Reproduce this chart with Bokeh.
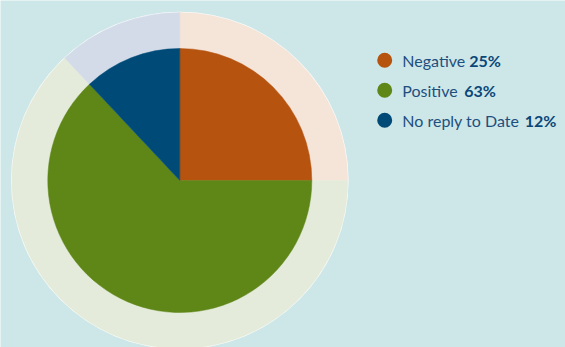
import math
from bokeh.plotting import figure
from bokeh.models import Range1d, ColumnDataSource
from bokeh.core.properties import value
from bokeh.embed import file_html
from bokeh.resources import INLINE

# ---- data ----
categories = ["Negative", "Positive", "No reply to Date"]
shares = [25, 63, 12]
labels = ["25%", "63%", "12%"]
colors = ["#b5530f", "#5e8718", "#004a78"]
light_colors = ["#f5e4d8", "#e4ebda", "#d3dbe8"]

W, H = 565, 347
BG = "#cde7e8"

p = figure(width=W, height=H, x_range=Range1d(0, W), y_range=Range1d(0, H),
           output_backend="svg", toolbar_location=None, min_border=0)
p.axis.visible = False
p.grid.visible = False
p.outline_line_color = None
p.background_fill_color = BG
p.border_fill_color = BG

cx, cy = 179.3, H - 180
r_in, r_out = 132, 168

total = float(sum(shares))
starts, ends = [], []
cum = 0.0
for s in shares:
    starts.append(math.pi / 2 - 2 * math.pi * cum / total)
    cum += s
    ends.append(math.pi / 2 - 2 * math.pi * cum / total)

src = ColumnDataSource(dict(start=starts, end=ends, color=colors, light=light_colors))

p.circle(x=[cx], y=[cy], radius=r_out + 0.8, fill_color="white", line_color=None)
p.annular_wedge(x=cx, y=cy, inner_radius=r_in - 1, outer_radius=r_out,
                start_angle="start", end_angle="end", direction="clock",
                fill_color="light", line_color="light", line_width=0.5, source=src)
p.wedge(x=cx, y=cy, radius=r_in, start_angle="start", end_angle="end",
        direction="clock", fill_color="color", line_color="color", line_width=0.5,
        source=src)

# ---- legend ----
leg_x = 384.2
row_y = [H - 59.8 - 30 * i for i in range(len(categories))]
text_x = 401.8
bold_dx = [67.0, 62.0, 122.5]
fs = "16px"
font = "Lato"

p.scatter(x=[leg_x] * len(categories), y=row_y, size=15, marker="circle",
          fill_color=colors, line_color=None)
p.text(x=[text_x] * len(categories), y=row_y, text=categories,
       text_font=value(font), text_font_size=fs, text_color="#1e4f7d",
       text_baseline="middle", text_align="left")
p.text(x=[text_x + d for d in bold_dx], y=row_y, text=labels,
       text_font=value(font), text_font_size=fs, text_font_style="bold",
       text_color="#0a4678", text_baseline="middle", text_align="left")

open("out.html", "w").write(file_html(p, INLINE))
